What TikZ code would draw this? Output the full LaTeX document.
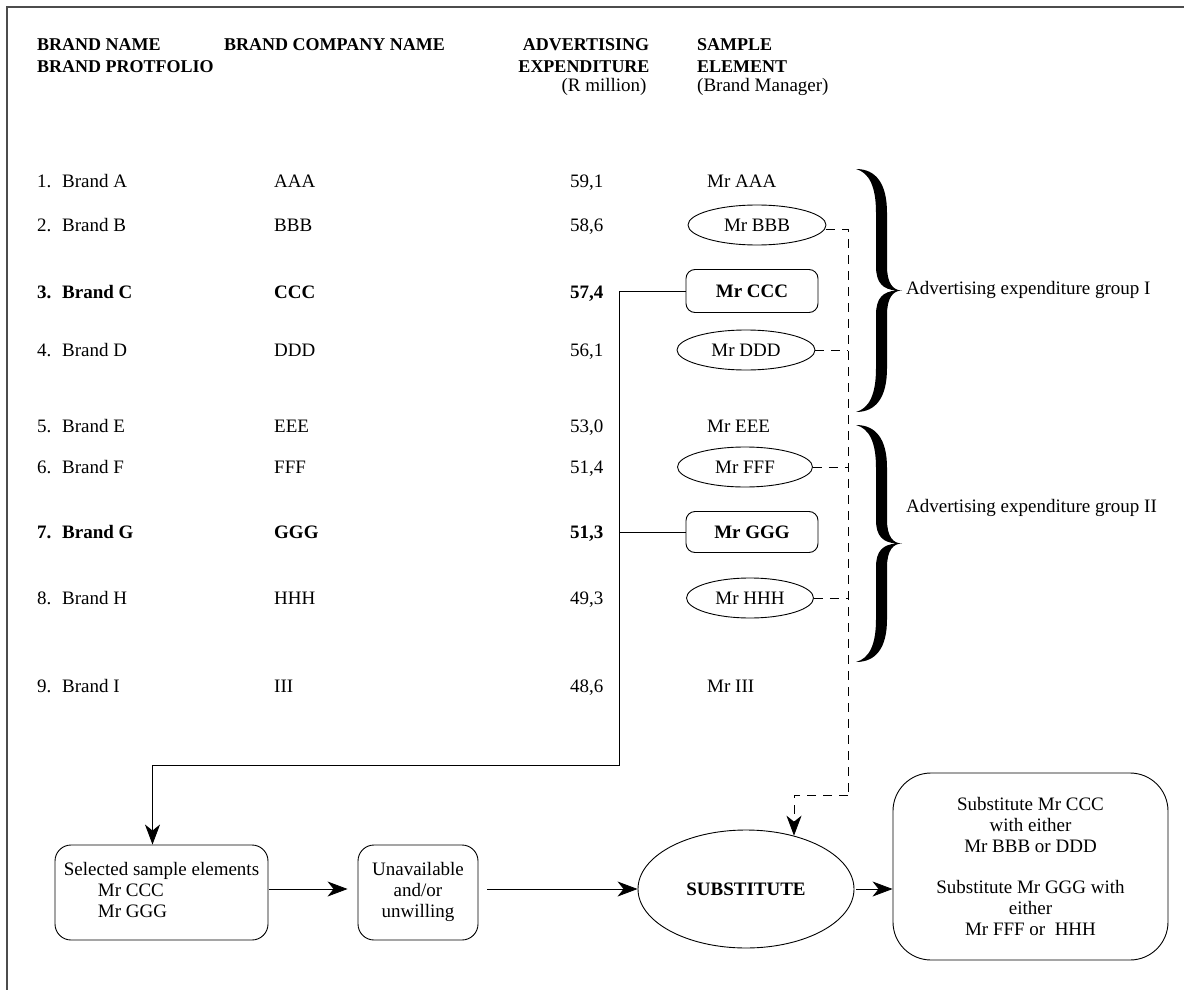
\documentclass[tikz,border=0pt]{standalone}
\usepackage{fontspec}
\setmainfont{Liberation Serif}
\usetikzlibrary{arrows.meta,shapes.geometric,calc}

\tikzset{
  txt/.style={anchor=base west, inner sep=0pt, font=\fontsize{19}{22}\selectfont},
  btxt/.style={txt, font=\fontsize{19}{22}\selectfont\bfseries},
  hdr/.style={txt, font=\fontsize{18}{22}\selectfont\bfseries},
  oval/.style={draw, ellipse, inner sep=0pt, line width=0.9pt, minimum height=40pt, font=\fontsize{19}{22}\selectfont},
  rbox/.style={draw, rounded corners=9pt, inner sep=0pt, line width=0.9pt, minimum width=132pt, font=\fontsize{19}{22}\selectfont\bfseries},
  flowbox/.style={draw, rounded corners=16pt, inner sep=0pt, line width=0.9pt, align=center, font=\fontsize{19}{21}\selectfont},
  link/.style={line width=0.8pt},
  dlink/.style={line width=0.8pt, dash pattern=on 9pt off 7pt},
  tip/.style={-{Stealth[length=20pt,width=15pt,inset=6pt]}},
  bracefill/.style={fill=black, draw=none}
}

% a thick right-pointing curly brace, drawn as a filled outline
\newcommand{\thickbrace}[3]{%
  \begin{scope}[shift={(#1,#2)}, yscale=#3]
    \path[bracefill]
      (0,0) .. controls (20,0) and (31,0.06) .. (31,0.18)
      -- (31,0.40) .. controls (31,0.47) and (37,0.5) .. (46,0.5)
      .. controls (37,0.5) and (31,0.53) .. (31,0.60)
      -- (31,0.82) .. controls (31,0.94) and (20,1) .. (0,1)
      .. controls (13,0.985) and (20,0.93) .. (20,0.82)
      -- (20,0.60) .. controls (20,0.53) and (27,0.505) .. (40,0.5)
      .. controls (27,0.495) and (20,0.47) .. (20,0.40)
      -- (20,0.18) .. controls (20,0.07) and (13,0.015) .. (0,0) -- cycle;
  \end{scope}}

\begin{document}
\begin{tikzpicture}[x=1pt, y=-1pt]
\useasboundingbox (0,0) rectangle (1184,990);

% page frame (top and left edges only)
\draw[line width=1.6pt, black!70] (7,990) -- (7,7) -- (1184,7);

% column headings
\node[hdr] (h1a) at (37,51) {BRAND NAME};
\node[hdr] (h1b) at (37,73) {BRAND PROTFOLIO};
\node[hdr] (h2)  at (224,51) {BRAND COMPANY NAME};
\node[hdr, anchor=base] (h3a) at (586,51) {ADVERTISING};
\node[hdr, anchor=base] (h3b) at (584,73) {EXPENDITURE};
\node[txt, anchor=base] (h3c) at (604,92) {(R million)};
\node[hdr] (h4a) at (697,51) {SAMPLE};
\node[hdr] (h4b) at (697,73) {ELEMENT};
\node[txt] (h4c) at (697,92) {(Brand Manager)};

% row 1
\node[txt] (n1) at (37,187) {1.};
\node[txt] (b1) at (62,187) {Brand A};
\node[txt] (c1) at (274,187) {AAA};
\node[txt] (e1) at (570,187) {59,1};
\node[txt] (m1) at (707,187) {Mr AAA};
% row 2
\node[txt] (n2) at (37,231) {2.};
\node[txt] (b2) at (62,231) {Brand B};
\node[txt] (c2) at (274,231) {BBB};
\node[txt] (e2) at (570,231) {58,6};
\node[oval, minimum width=138pt] (BBB) at (757,225) {Mr BBB};
% row 3
\node[btxt] (n3) at (37,298) {3.};
\node[btxt] (b3) at (62,298) {Brand C};
\node[btxt] (c3) at (274,298) {CCC};
\node[btxt] (e3) at (570,298) {57,4};
\node[rbox, minimum height=43pt] (CCC) at (752,291) {Mr CCC};
% row 4
\node[txt] (n4) at (37,356) {4.};
\node[txt] (b4) at (62,356) {Brand D};
\node[txt] (c4) at (274,356) {DDD};
\node[txt] (e4) at (570,356) {56,1};
\node[oval, minimum width=138pt] (DDD) at (746,350) {Mr DDD};
% row 5
\node[txt] (n5) at (37,432) {5.};
\node[txt] (b5) at (62,432) {Brand E};
\node[txt] (c5) at (274,432) {EEE};
\node[txt] (e5) at (570,432) {53,0};
\node[txt] (m5) at (707,432) {Mr EEE};
% row 6
\node[txt] (n6) at (37,473) {6.};
\node[txt] (b6) at (62,473) {Brand F};
\node[txt] (c6) at (274,473) {FFF};
\node[txt] (e6) at (570,473) {51,4};
\node[oval, minimum width=135pt] (FFF) at (745,467) {Mr FFF};
% row 7
\node[btxt] (n7) at (37,538) {7.};
\node[btxt] (b7) at (62,538) {Brand G};
\node[btxt] (c7) at (274,538) {GGG};
\node[btxt] (e7) at (570,538) {51,3};
\node[rbox, minimum height=41pt] (GGG) at (752,532) {Mr GGG};
% row 8
\node[txt] (n8) at (37,604) {8.};
\node[txt] (b8) at (62,604) {Brand H};
\node[txt] (c8) at (274,604) {HHH};
\node[txt] (e8) at (570,604) {49,3};
\node[oval, minimum width=127pt] (HHH) at (750,598) {Mr HHH};
% row 9
\node[txt] (n9) at (37,692) {9.};
\node[txt] (b9) at (62,692) {Brand I};
\node[txt] (c9) at (274,692) {III};
\node[txt] (e9) at (570,692) {48,6};
\node[txt] (m9) at (707,692) {Mr III};

% grouping braces and their labels
\thickbrace{856}{169}{243}
\thickbrace{856}{425}{237}
\node[txt, anchor=west] (g1) at (906,290) {Advertising expenditure group I};
\node[txt, anchor=west] (g2) at (906,508) {Advertising expenditure group II};

% flow of the selection procedure
\node[flowbox, minimum width=213pt, minimum height=95pt] (Sel) at (161.5,892.5)
  {\raisebox{5pt}{\begin{tabular}{@{}l@{}}Selected sample elements\\\hspace*{34pt}Mr CCC\\\hspace*{34pt}Mr GGG\end{tabular}}};
\node[flowbox, minimum width=120pt, minimum height=95pt] (Una) at (418,892.5)
  {\raisebox{5pt}{\begin{tabular}{@{}c@{}}Unavailable\\and/or\\unwilling\end{tabular}}};
\node[draw, ellipse, line width=0.9pt, minimum width=216pt, minimum height=118pt, inner sep=0pt,
      font=\fontsize{19}{22}\selectfont\bfseries] (Sub) at (746,889) {SUBSTITUTE};
\node[draw, rounded corners=38pt, line width=0.9pt, minimum width=275pt, minimum height=187pt,
      align=center, font=\fontsize{19}{21}\selectfont] (Res) at (1030.5,866.5)
  {Substitute Mr CCC\\with either\\Mr BBB or DDD\\[20pt]Substitute Mr GGG with\\either\\Mr FFF or\ \ HHH};

% selected managers feed the flow
\coordinate (jn) at (619,765);
\draw[link, tip] (CCC.west) -| (jn) -| ([xshift=-9pt]Sel.north);
\draw[link] (GGG.west) -- (GGG.west -| jn);

% possible substitutes
\coordinate (dv) at (848,795);
\draw[dlink] ([yshift=-4pt]BBB.east) -| (dv);
\draw[dlink] (DDD.east) -- (DDD.east -| dv);
\draw[dlink] (FFF.east) -- (FFF.east -| dv);
\draw[dlink] (HHH.east) -- (HHH.east -| dv);
\draw[dlink, tip] (dv) -| (Sub.48);

\draw[link, tip, shorten <=1pt, shorten >=10pt] (Sel.east |- Sub.west) -- (Una.west |- Sub.west);
\draw[link, tip, shorten <=9pt] (Una.east |- Sub.west) -- (Sub.west);
\draw[link, tip, shorten <=2pt] (Sub.east) -- (Res.west |- Sub.east);
\end{tikzpicture}
\end{document}
